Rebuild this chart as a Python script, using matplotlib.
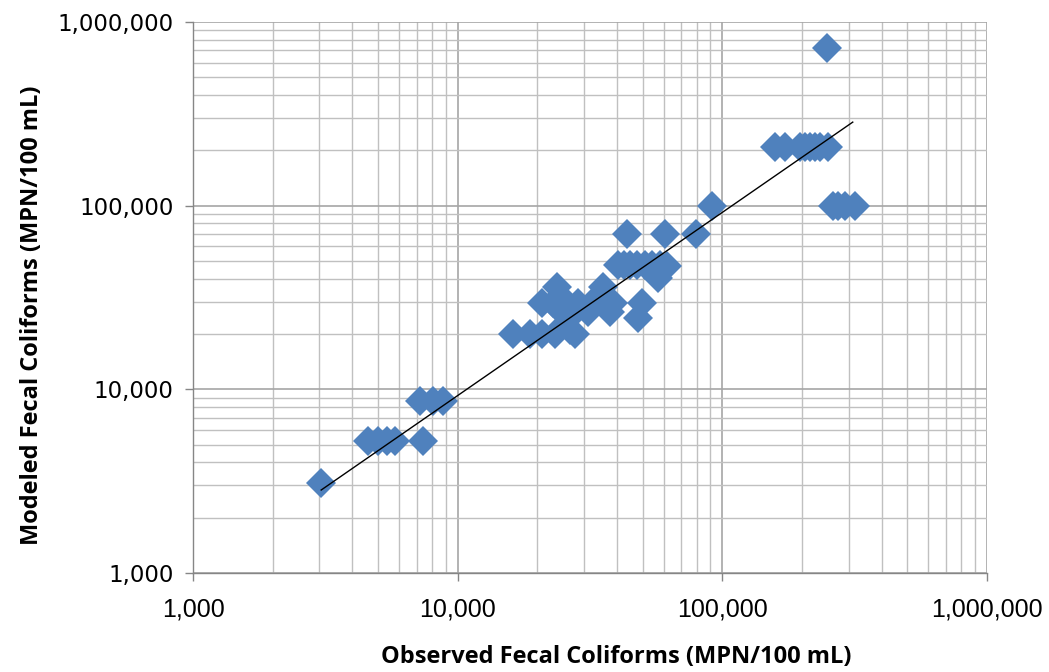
import numpy as np
import matplotlib
matplotlib.use("Agg")
import matplotlib.pyplot as plt
from matplotlib.ticker import FixedLocator, FuncFormatter, LogLocator, NullFormatter

# Observed vs modeled fecal coliforms (MPN/100 mL)
observed = [
    3050,
    4600, 5000, 5400, 5800, 7400,
    7200, 8100, 8800,
    16200, 18800, 20800, 23300, 27700,
    26500,
    24800, 27700, 31000, 37600,
    20800, 22900, 25900, 28500, 32200, 36000, 38600,
    23700, 35300,
    49800, 48000,
    40300, 42500, 44800, 47500, 50900, 54000, 58000, 62000, 57000,
    43600, 60700, 79400,
    91400,
    158000, 172000, 196000, 205000, 214000, 224000, 234000, 250000,
    248000,
    262000, 273000, 290000, 317000,
]
modeled = [
    3100,
    5200, 5200, 5200, 5200, 5200,
    8600, 8600, 8600,
    20000, 20000, 20000, 20000, 20000,
    21000,
    26300, 26300, 26300, 26300,
    29500, 29500, 29500, 29500, 29500, 29500, 29500,
    36000, 36000,
    29500, 24500,
    47500, 47500, 47500, 47500, 47500, 47500, 47500, 47000, 40300,
    70000, 70000, 70000,
    100000,
    208000, 208000, 208000, 208000, 208000, 208000, 208000, 208000,
    721000,
    100000, 100000, 100000, 100000,
]
# trendline end points (power fit)
trend_x = [3050, 311000]
trend_y = [2830, 285000]

major_ticks = [1000, 10000, 100000, 1000000]

fig = plt.figure(figsize=(10.49, 6.72), dpi=100)
ax = fig.add_axes([193/1049, 1-573/672, (987-193)/1049, (573-22)/672])
ax.set_xscale('log')
ax.set_yscale('log')
ax.set_xlim(1000, 1000000)
ax.set_ylim(1000, 1000000)

ax.plot(observed, modeled, linestyle='none', marker='D', markersize=15,
        color='#4F81BD', markeredgewidth=0, zorder=3)
ax.plot(trend_x, trend_y, color='black', linewidth=1.0, zorder=4)

for axis in (ax.xaxis, ax.yaxis):
    axis.set_major_locator(FixedLocator(major_ticks))
    axis.set_minor_locator(LogLocator(base=10, subs=np.arange(2, 10), numticks=20))
    axis.set_minor_formatter(NullFormatter())
    axis.set_major_formatter(FuncFormatter(lambda v, p: f"{int(round(v)):,}"))

ax.grid(which='major', color='#A6A6A6', linewidth=1.2)
ax.grid(which='minor', color='#C0C0C0', linewidth=1.0)
ax.set_axisbelow(True)

for s in ('top', 'right'):
    ax.spines[s].set_visible(False)
for s in ('left', 'bottom'):
    ax.spines[s].set_color('#868686')
    ax.spines[s].set_linewidth(1.0)

ax.tick_params(which='major', direction='out', length=6, width=1, color='#868686')
ax.tick_params(which='minor', length=0)
ax.tick_params(axis='y', labelsize=16.5, pad=8)
ax.tick_params(axis='x', labelsize=18, pad=12)
for lab in ax.get_xticklabels():
    lab.set_family('Liberation Sans')
for lab in ax.get_yticklabels():
    lab.set_family('DejaVu Sans')

fig.text(616/1049, 1-657/672, 'Observed Fecal Coliforms (MPN/100 mL)', ha='center', va='center',
         fontsize=17, fontweight='bold', family='Open Sans')
fig.text(32/1049, 1-315/672, 'Modeled Fecal Coliforms (MPN/100 mL)', ha='center', va='center',
         rotation=90, fontsize=17, fontweight='bold', family='Open Sans')

fig.savefig('out.png', dpi=100)
